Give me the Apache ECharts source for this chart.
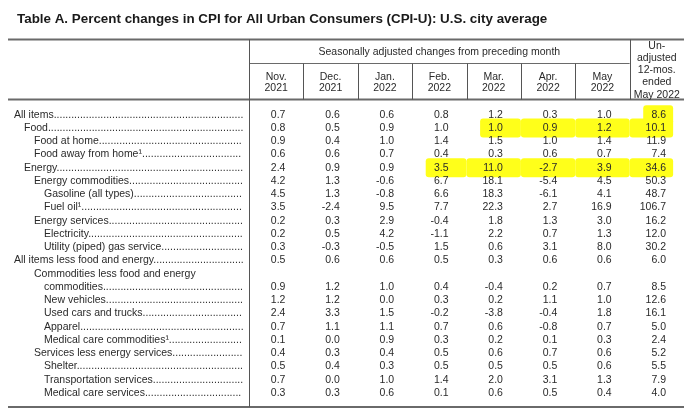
<!DOCTYPE html>
<html>
<head>
<meta charset="utf-8">
<script src="https://cdn.jsdelivr.net/npm/echarts/dist/echarts.min.js"></script>
<style>
  html, body { margin: 0; padding: 0; background: #fff; }
  #cpiTable { width: 684px; height: 414px; }
</style>
</head>
<body>
<div id="cpiTable"></div>
<script>
const titleText = "Table A. Percent changes in CPI for All Urban Consumers (CPI-U): U.S. city average";
const groupHeader = "Seasonally adjusted changes from preceding month";
const columnLabels = [
  "Nov.\n2021", "Dec.\n2021", "Jan.\n2022", "Feb.\n2022",
  "Mar.\n2022", "Apr.\n2022", "May\n2022",
  "Un-\nadjusted\n12-mos.\nended\nMay 2022"
];
const itemLabels = [
  "All items", "Food", "Food at home", "Food away from home¹", "Energy",
  "Energy commodities", "Gasoline (all types)", "Fuel oil¹", "Energy services",
  "Electricity", "Utility (piped) gas service", "All items less food and energy",
  "Commodities less food and energy", "commodities", "New vehicles",
  "Used cars and trucks", "Apparel", "Medical care commodities¹",
  "Services less energy services", "Shelter", "Transportation services",
  "Medical care services"
];
const itemLevels = [0, 1, 2, 2, 1, 2, 3, 3, 2, 3, 3, 0, 2, 3, 3, 3, 3, 3, 2, 3, 3, 3];

const nov2021 = [0.7, 0.8, 0.9, 0.6, 2.4, 4.2, 4.5, 3.5, 0.2, 0.2, 0.3, 0.5, null, 0.9, 1.2, 2.4, 0.7, 0.1, 0.4, 0.5, 0.7, 0.3];
const dec2021 = [0.6, 0.5, 0.4, 0.6, 0.9, 1.3, 1.3, -2.4, 0.3, 0.5, -0.3, 0.6, null, 1.2, 1.2, 3.3, 1.1, 0.0, 0.3, 0.4, 0.0, 0.3];
const jan2022 = [0.6, 0.9, 1.0, 0.7, 0.9, -0.6, -0.8, 9.5, 2.9, 4.2, -0.5, 0.6, null, 1.0, 0.0, 1.5, 1.1, 0.9, 0.4, 0.3, 1.0, 0.6];
const feb2022 = [0.8, 1.0, 1.4, 0.4, 3.5, 6.7, 6.6, 7.7, -0.4, -1.1, 1.5, 0.5, null, 0.4, 0.3, -0.2, 0.7, 0.3, 0.5, 0.5, 1.4, 0.1];
const mar2022 = [1.2, 1.0, 1.5, 0.3, 11.0, 18.1, 18.3, 22.3, 1.8, 2.2, 0.6, 0.3, null, -0.4, 0.2, -3.8, 0.6, 0.2, 0.6, 0.5, 2.0, 0.6];
const apr2022 = [0.3, 0.9, 1.0, 0.6, -2.7, -5.4, -6.1, 2.7, 1.3, 0.7, 3.1, 0.6, null, 0.2, 1.1, -0.4, -0.8, 0.1, 0.7, 0.5, 3.1, 0.5];
const may2022 = [1.0, 1.2, 1.4, 0.7, 3.9, 4.5, 4.1, 16.9, 3.0, 1.3, 8.0, 0.6, null, 0.7, 1.0, 1.8, 0.7, 0.3, 0.6, 0.6, 1.3, 0.4];
const unadjusted12mo = [8.6, 10.1, 11.9, 7.4, 34.6, 50.3, 48.7, 106.7, 16.2, 12.0, 30.2, 6.0, null, 8.5, 12.6, 16.1, 5.0, 2.4, 5.2, 5.5, 7.9, 4.0];

// marker-pen highlights: [column, row]
const highlightCells = [
  [7, 0],
  [4, 1], [5, 1], [6, 1], [7, 1],
  [3, 4], [4, 4], [5, 4], [6, 4], [7, 4]
];

const valueColumns = [nov2021, dec2021, jan2022, feb2022, mar2022, apr2022, may2022, unadjusted12mo];

const FONT = "Liberation Sans";
const FS = 10.5;
const INK = "#2a2a2a";
const RULE = "#6a6a6a";
const LABEL_X = 14;
const INDENT = 10;
const DOTS_END = 244;
const GRID_LEFT = 249;
const TABLE_LEFT = 8;
const RULE_TOP = 39.5, RULE_GROUP = 63.5, RULE_HEAD = 99.5, RULE_BOTTOM = 407;

const measure = document.createElement("canvas").getContext("2d");
measure.font = FS + "px \"" + FONT + "\"";

function withLeader(text, idx) {
  const hasValues = valueColumns.some(col => col[idx] !== null);
  if (!hasValues) return text;
  const avail = DOTS_END - LABEL_X - itemLevels[idx] * INDENT;
  let s = text;
  while (measure.measureText(s + ".").width <= avail) s += ".";
  return s;
}

const cellData = [];
valueColumns.forEach((col, c) => {
  col.forEach((v, r) => {
    if (v !== null) cellData.push([c, r, v]);
  });
});

const isHighlighted = (c, r) => highlightCells.some(h => h[0] === c && h[1] === r);

const rich = {};
[0, 1, 2, 3].forEach(l => {
  rich["l" + l] = { padding: [0, 0, 0, l * INDENT], fontSize: FS, fontFamily: FONT, color: INK };
});

const chart = echarts.init(document.getElementById("cpiTable"));

const options = {
  animation: false,
  backgroundColor: "#fff",
  title: {
    text: titleText,
    left: 12,
    top: 8,
    textStyle: { fontFamily: FONT, fontSize: 13.4, fontWeight: "bold", color: "#1a1a1a" }
  },
  grid: { left: GRID_LEFT, right: 0, top: 108, bottom: 14.5 },
  xAxis: [
    {
      type: "category",
      position: "top",
      data: columnLabels,
      axisLine: { show: false },
      axisTick: { show: false },
      splitLine: { show: false },
      axisLabel: {
        interval: 0,
        margin: 14,
        lineHeight: 11.5,
        fontSize: FS,
        fontFamily: FONT,
        color: INK,
        formatter: (v, i) => (i < 7 ? v : "")
      }
    },
    {
      type: "category",
      position: "top",
      data: columnLabels,
      axisLine: { show: false },
      axisTick: { show: false },
      splitLine: { show: false },
      axisLabel: {
        interval: 0,
        margin: 7,
        lineHeight: 12.3,
        fontSize: FS,
        fontFamily: FONT,
        color: INK,
        formatter: (v, i) => (i === 7 ? v : "")
      }
    }
  ],
  yAxis: {
    type: "category",
    inverse: true,
    data: itemLabels,
    axisLine: { show: false },
    axisTick: { show: false },
    splitLine: { show: false },
    axisLabel: {
      interval: 0,
      align: "left",
      margin: GRID_LEFT - LABEL_X,
      fontSize: FS,
      fontFamily: FONT,
      color: INK,
      formatter: (v, i) => "{l" + itemLevels[i] + "|" + withLeader(v, i) + "}",
      rich: rich
    }
  },
  series: [
    {
      name: "highlight",
      type: "custom",
      z: 1,
      data: highlightCells,
      renderItem: (params, api) => {
        const c = api.value(0), r = api.value(1);
        const p = api.coord([c, r]);
        const bw = api.size([1, 0])[0];
        const left = isHighlighted(c - 1, r) ? p[0] - bw / 2 : p[0] - bw * 0.25;
        const right = isHighlighted(c + 1, r) ? p[0] + bw / 2 : p[0] + bw * 0.3;
        return {
          type: "rect",
          shape: { x: left, y: p[1] - 9.5, width: right - left, height: 19, r: 3 },
          style: { fill: "#ffff1a" }
        };
      }
    },
    {
      name: "values",
      type: "custom",
      z: 2,
      data: cellData,
      renderItem: (params, api) => {
        const p = api.coord([api.value(0), api.value(1)]);
        const bw = api.size([1, 0])[0];
        return {
          type: "text",
          style: {
            x: p[0] + bw * 0.17,
            y: p[1],
            text: api.value(2).toFixed(1),
            textAlign: "right",
            textVerticalAlign: "middle",
            font: FS + "px \"" + FONT + "\"",
            fill: INK
          }
        };
      }
    }
  ]
};

chart.setOption(options, true);

// table rules, placed from the column scale
const cx = i => chart.convertToPixel({ xAxisIndex: 0 }, i);
const bw = cx(1) - cx(0);
const crisp = v => Math.round(v) + 0.5;
const tableLeft = cx(0) - bw / 2;
const monthsRight = cx(6) + bw / 2;
const tableRight = cx(7) + bw / 2;

const hLine = (x1, x2, y, w) => ({
  type: "line", silent: true,
  shape: { x1: x1, y1: y, x2: x2, y2: y },
  style: { stroke: RULE, lineWidth: w }
});
const vLine = (x, y1, y2) => ({
  type: "line", silent: true,
  shape: { x1: crisp(x), y1: y1, x2: crisp(x), y2: y2 },
  style: { stroke: "#555", lineWidth: 1 }
});

const rules = [
  hLine(TABLE_LEFT, tableRight, RULE_TOP, 2),
  hLine(TABLE_LEFT, tableRight, RULE_HEAD, 2),
  hLine(TABLE_LEFT, tableRight, RULE_BOTTOM, 2),
  hLine(tableLeft, monthsRight, RULE_GROUP, 1),
  vLine(tableLeft, RULE_TOP, RULE_BOTTOM),
  vLine(monthsRight, RULE_TOP, RULE_HEAD)
];
for (let i = 0; i < 6; i++) rules.push(vLine(cx(i) + bw / 2, RULE_GROUP, RULE_HEAD));
rules.push({
  type: "text", silent: true,
  style: {
    x: (tableLeft + monthsRight) / 2, y: 52,
    text: groupHeader,
    textAlign: "center", textVerticalAlign: "middle",
    font: FS + "px \"" + FONT + "\"", fill: INK
  }
});

chart.setOption({ graphic: rules });
</script>
</body>
</html>
